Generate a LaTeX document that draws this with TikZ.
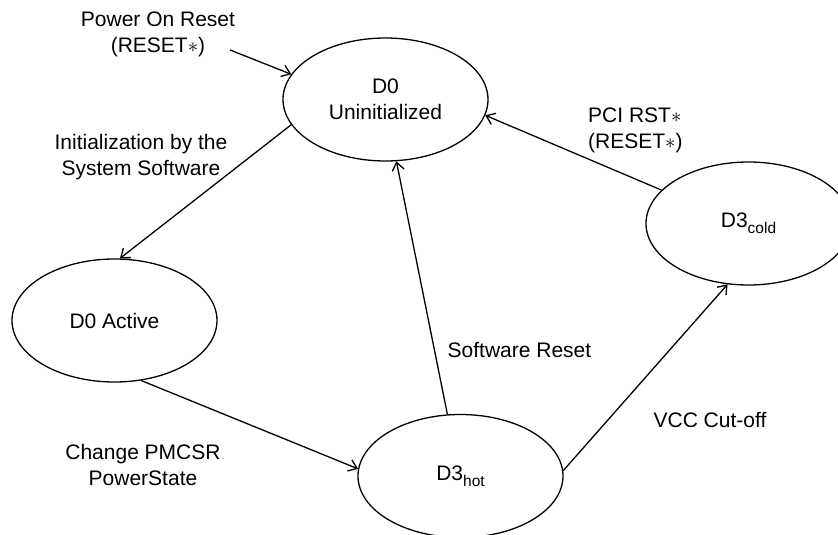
\documentclass[tikz,border=0pt]{standalone}
\usepackage{fontspec}
\setmainfont{Liberation Sans}
\usetikzlibrary{arrows.meta, shapes.geometric}
\newcommand{\sublbl}[1]{\raisebox{-0.28em}{\fontsize{15.5}{15.5}\selectfont #1}}

\begin{document}
\begin{tikzpicture}[
x=1pt, y=-1pt,
state/.style={
draw,
ellipse,
line width=1.3pt,
minimum width=205pt,
minimum height=123pt,
inner sep=0pt,
align=center,
font=\fontsize{21}{26}\selectfont
},
arrow/.style={-{Straight Barb[length=8pt,width=12pt]}, line width=1.3pt},
lbl/.style={align=center, inner sep=0pt, font=\fontsize{21}{26}\selectfont}
]

\useasboundingbox (0,0) rectangle (838,535);

\node[state] (uninit) at (385.5,99.5) {D0\\Uninitialized};
\node[state] (active) at (114.5,320.5) {D0 Active};
\node[state] (hot) at (460.5,476) {D3\sublbl{hot}};
\node[state] (cold) at (748.5,223.5) {D3\sublbl{cold}};

\coordinate (por) at (230,50);

\node[lbl] (porlbl) at (158,34) {Power On Reset\\(RESET$\ast$)};
\node[lbl] (initlbl) at (141,157) {Initialization by the\\System Software};
\node[lbl, align=left, anchor=west] (pcilbl) at (588,130) {PCI RST$\ast$\\(RESET$\ast$)};
\node[lbl] (swlbl) at (519.5,350) {Software Reset};
\node[lbl] (vcclbl) at (710,420) {VCC Cut-off};
\node[lbl] (pmlbl) at (143,465) {Change PMCSR\\PowerState};

\draw[arrow] (por) -- (uninit.165);
\draw[arrow] (uninit.195) -- (active.85);
\draw[arrow] (active.294) -- (hot.176);
\draw[arrow] (hot.102) -- (uninit.280);
\draw[arrow] (hot.3) -- (cold.251);
\draw[arrow] (cold.159) -- (uninit.351);

\end{tikzpicture}
\end{document}
